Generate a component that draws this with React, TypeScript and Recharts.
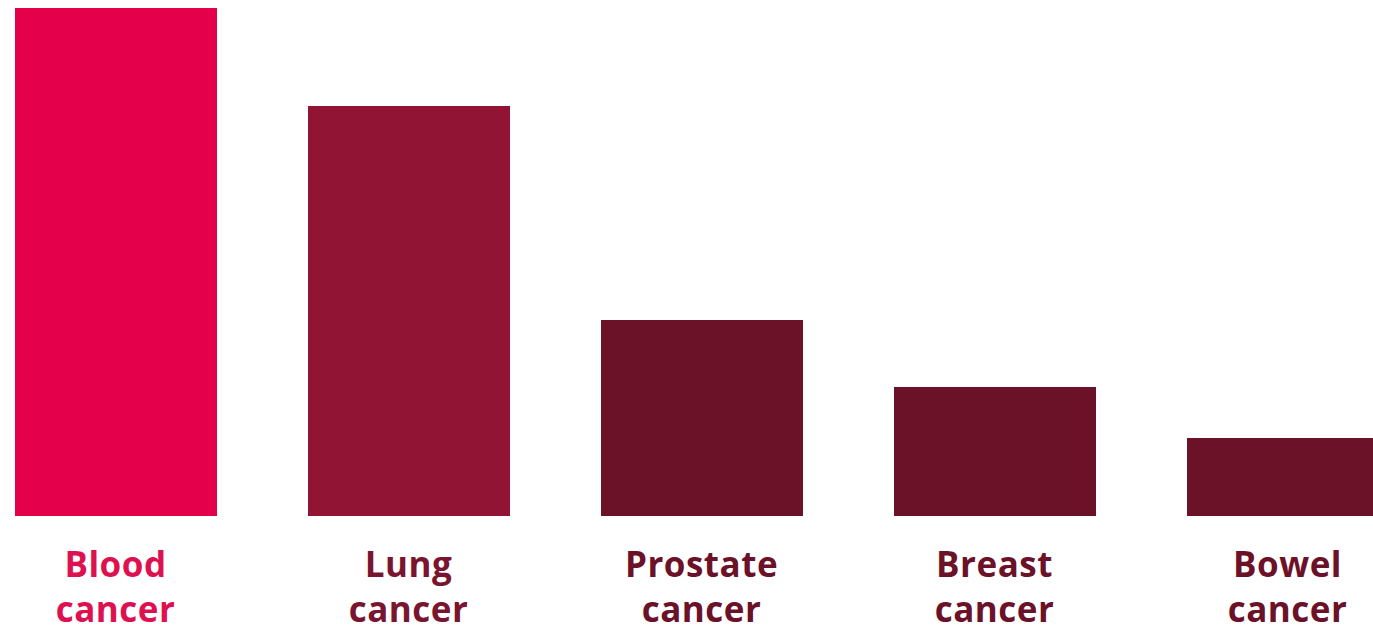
import { BarChart, Bar, XAxis, YAxis, Cell } from 'recharts';

const categories = ['Blood cancer', 'Lung cancer', 'Prostate cancer', 'Breast cancer', 'Bowel cancer'];
const values = [508, 410, 196, 129, 78];
const barColors = ['#E4004A', '#921434', '#6B1128', '#6B1128', '#6B1128'];
const labelColors = ['#DD1050', '#7A1530', '#6B1128', '#6B1128', '#6B1128'];

const data = categories.map((name, i) => ({ name, value: values[i] }));

function CancerTick(props: any) {
  const { x, y, payload, index } = props;
  const [first, second] = String(payload.value).split(' ');
  return (
    <text
      x={x}
      y={y}
      textAnchor="middle"
      fill={labelColors[index]}
      fontFamily="'Open Sans', sans-serif"
      fontWeight={700}
      fontSize={35}
      letterSpacing={0.5}
    >
      <tspan x={x} dy={53}>{first}</tspan>
      <tspan x={x} dy={45}>{second}</tspan>
    </text>
  );
}

export default function App() {
  return (
    <div
      style={{
        position: 'fixed',
        left: 0,
        top: 0,
        width: 1373,
        height: 632,
        overflow: 'hidden',
        background: '#ffffff',
      }}
    >
      <div style={{ position: 'absolute', left: -31, top: 0 }}>
        <BarChart
          width={1465}
          height={632}
          data={data}
          margin={{ top: 8, right: 0, bottom: 0, left: 0 }}
          barSize={202}
        >
          <XAxis
            dataKey="name"
            axisLine={false}
            tickLine={false}
            height={116}
            interval={0}
            tick={<CancerTick />}
          />
          <YAxis hide domain={[0, 508]} />
          <Bar dataKey="value" isAnimationActive={false}>
            {data.map((d, i) => (
              <Cell key={d.name} fill={barColors[i]} />
            ))}
          </Bar>
        </BarChart>
      </div>
    </div>
  );
}
